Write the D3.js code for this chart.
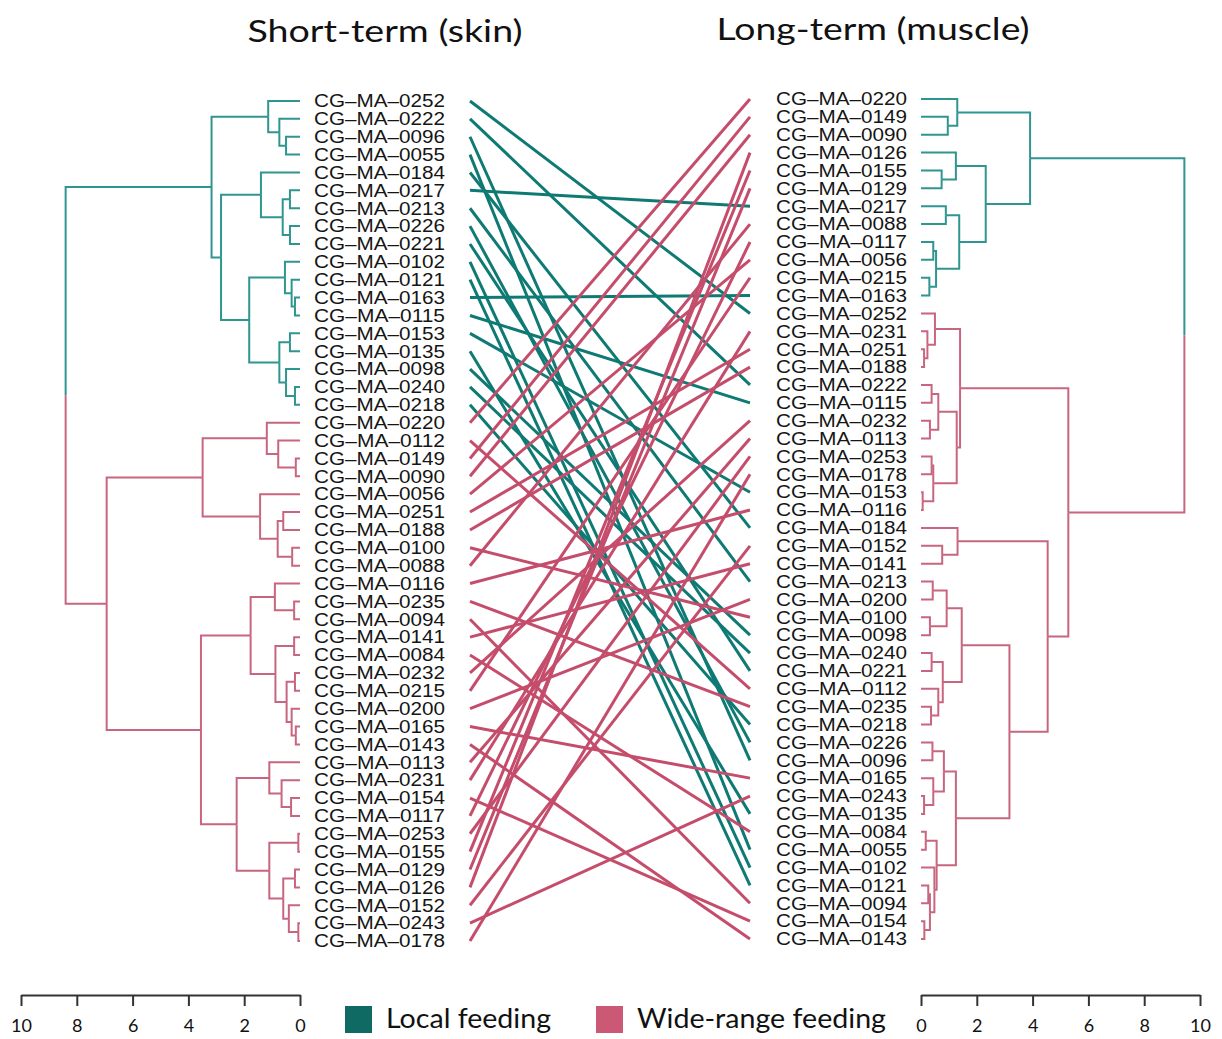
<!DOCTYPE html>
<html>
<head>
<meta charset="utf-8">
<script src="https://cdn.jsdelivr.net/npm/d3@7"></script>
<style>
  body { margin: 0; background: #fff; }
  svg { display: block; }
</style>
</head>
<body>
<svg id="chart" width="1222" height="1039"></svg>
<script>
// Titles, legend, axis ticks
var leftTitle = 'Short-term (skin)';
var rightTitle = 'Long-term (muscle)';
var clusterNames = ['Local feeding', 'Wide-range feeding'];
var tickValues = [0, 2, 4, 6, 8, 10];
var labelPrefix = 'CG\u2013MA\u2013';

// Dendrograms as nested [height, upper, lower]; leaves are sample codes
var leftRootHeight = 8.40;
var leftTeal = [3.17,
  [1.14, '0252', [0.74, '0222', [0.50, '0096', '0055']]],
  [2.83,
    [1.40, '0184', [0.62, [0.36, '0217', '0213'], [0.36, '0226', '0221']]],
    [1.82,
      [0.54, '0102', [0.30, '0121', [0.18, '0163', '0115']]],
      [0.74, [0.36, '0153', '0135'], [0.50, '0098', [0.18, '0240', '0218']]]]]];
var leftPink = [6.93,
  [3.49,
    [1.19, '0220', [0.78, '0112', [0.15, '0149', '0090']]],
    [1.43, '0056', [0.80, [0.60, '0251', '0188'], [0.28, '0100', '0088']]]],
  [3.55,
    [1.77,
      [0.90, '0116', [0.21, '0235', '0094']],
      [0.88, [0.21, '0141', '0084'], [0.48, [0.18, '0232', '0215'], [0.30, '0200', [0.15, '0165', '0143']]]]],
    [2.27,
      [1.10, '0113', [0.66, '0231', [0.32, '0154', '0117']]],
      [1.10, [0.06, '0253', '0155'], [0.60, [0.18, '0129', '0126'], [0.40, '0152', [0.06, '0243', '0178']]]]]]];

var rightRootHeight = 9.44;
var rightTeal = [3.91,
  [1.30, '0220', [0.96, '0149', '0090']],
  [2.32,
    [1.25, '0126', [0.74, '0155', '0129']],
    [1.37, [0.89, '0217', '0088'], [0.54, [0.44, '0117', '0056'], [0.30, '0215', '0163']]]]];
var rightPink = [5.28,
  [1.40,
    [0.50, '0252', [0.23, '0231', [0.11, '0251', '0188']]],
    [1.28,
      [0.62, [0.38, '0222', '0115'], [0.32, '0232', '0113']],
      [0.44, [0.38, '0253', '0178'], [0.06, '0153', '0116']]]],
  [4.54,
    [1.31, '0184', [0.76, '0152', '0141']],
    [3.17,
      [1.46,
        [0.92, [0.42, '0213', '0200'], [0.32, '0100', '0098']],
        [0.78, [0.38, '0240', '0221'], [0.62, '0112', [0.36, '0235', '0218']]]],
      [1.25,
        [0.82, [0.41, '0226', '0096'], [0.44, '0165', [0.11, '0243', '0135']]],
        [0.56, [0.17, '0084', '0055'], [0.48, '0102', [0.32, [0.26, '0121', '0094'], [0.12, '0154', '0143']]]]]]]];

(function () {
    var TREE_COLORS = ['#2f9590', '#c8667f'];
    var LINE_COLORS = ['#0f7a74', '#c54d6c'];
    var KEY_COLORS = ['#0e6a63', '#cb5874'];
    var LABEL_FONT = '"Liberation Sans", Arial, sans-serif';
    var TITLE_FONT = 'Lato, "Open Sans", sans-serif';

    var svg = d3.select('#chart');

    var xLeft = d3.scaleLinear().domain([0, 10]).range([300, 21]);
    var xRight = d3.scaleLinear().domain([0, 10]).range([921, 1200]);

    function build(rootHeight, teal, pink, x, yTop, yBottom) {
        var root = d3.hierarchy([rootHeight, teal, pink], function (d) {
            return Array.isArray(d) ? d.slice(1) : null;
        });
        root.children[0].each(function (n) { n.cluster = 0; });
        root.children[1].each(function (n) { n.cluster = 1; });
        var leaves = root.leaves();
        var y = d3.scalePoint()
            .domain(leaves.map(function (l) { return l.data; }))
            .range([yTop, yBottom]);
        // height -> x, leaf order -> y, inner nodes sit midway between children
        root.eachAfter(function (n) {
            n.h = Array.isArray(n.data) ? n.data[0] : 0;
            n.px = x(n.h);
            n.py = n.children ? d3.mean(n.children, function (c) { return c.py; }) : y(n.data);
        });
        return { root: root, leaves: leaves, y: y };
    }

    var left = build(leftRootHeight, leftTeal, leftPink, xLeft, 101, 941);
    var right = build(rightRootHeight, rightTeal, rightPink, xRight, 99, 939);

    function drawTree(tree, cls) {
        svg.append('g').attr('class', cls)
            .selectAll('path')
            .data(tree.root.descendants().filter(function (n) { return n.parent; }))
            .join('path')
            .attr('d', function (n) {
                return 'M' + n.parent.px + ',' + n.parent.py + 'V' + n.py + 'H' + n.px;
            })
            .attr('fill', 'none')
            .attr('stroke', function (n) { return TREE_COLORS[n.cluster]; })
            .attr('stroke-width', 2);
    }
    drawTree(left, 'tree-left');
    drawTree(right, 'tree-right');

    function drawLabels(tree, x) {
        svg.append('g')
            .selectAll('text')
            .data(tree.leaves)
            .join('text')
            .attr('x', x)
            .attr('y', function (l) { return l.py; })
            .attr('dy', '0.36em')
            .attr('font-family', LABEL_FONT)
            .attr('font-size', 17.5)
            .attr('fill', '#151515')
            .attr('textLength', 131)
            .attr('lengthAdjust', 'spacingAndGlyphs')
            .text(function (l) { return labelPrefix + l.data; });
    }
    drawLabels(left, 314);
    drawLabels(right, 776);

    // Connecting lines, coloured by the left-hand cluster
    svg.append('g').attr('class', 'tangle')
        .selectAll('line')
        .data(left.leaves)
        .join('line')
        .attr('x1', 470)
        .attr('y1', function (l) { return l.py; })
        .attr('x2', 750)
        .attr('y2', function (l) { return right.y(l.data); })
        .attr('stroke', function (l) { return LINE_COLORS[l.cluster]; })
        .attr('stroke-width', 3);

    // Titles
    svg.append('text')
        .attr('x', 385).attr('y', 42)
        .attr('text-anchor', 'middle')
        .attr('font-family', TITLE_FONT).attr('font-size', 31).attr('fill', '#111')
        .attr('textLength', 275).attr('lengthAdjust', 'spacingAndGlyphs')
        .text(leftTitle);
    svg.append('text')
        .attr('x', 873).attr('y', 40)
        .attr('text-anchor', 'middle')
        .attr('font-family', TITLE_FONT).attr('font-size', 31).attr('fill', '#111')
        .attr('textLength', 313).attr('lengthAdjust', 'spacingAndGlyphs')
        .text(rightTitle);

    // Height axes
    function drawAxis(x) {
        var g = svg.append('g')
            .attr('transform', 'translate(0,995)')
            .call(d3.axisBottom(x).tickValues(tickValues).tickSizeInner(11).tickSizeOuter(0).tickPadding(13));
        g.select('.domain').attr('stroke', '#333').attr('stroke-width', 2);
        g.selectAll('.tick line').attr('stroke', '#333').attr('stroke-width', 2);
        g.selectAll('.tick text')
            .attr('font-family', TITLE_FONT).attr('font-size', 18).attr('fill', '#111');
    }
    drawAxis(xLeft);
    drawAxis(xRight);

    // Legend
    var keyX = [345, 596];
    var keyTextLen = [165, 249];
    var legend = svg.append('g').selectAll('g')
        .data(clusterNames)
        .join('g')
        .attr('transform', function (d, i) { return 'translate(' + keyX[i] + ',1006)'; });
    legend.append('rect')
        .attr('width', 27).attr('height', 27)
        .attr('fill', function (d, i) { return KEY_COLORS[i]; });
    legend.append('text')
        .attr('x', 41).attr('y', 22)
        .attr('font-family', TITLE_FONT).attr('font-size', 26).attr('fill', '#111')
        .attr('textLength', function (d, i) { return keyTextLen[i]; })
        .attr('lengthAdjust', 'spacingAndGlyphs')
        .text(function (d) { return d; });
}());
</script>
</body>
</html>
